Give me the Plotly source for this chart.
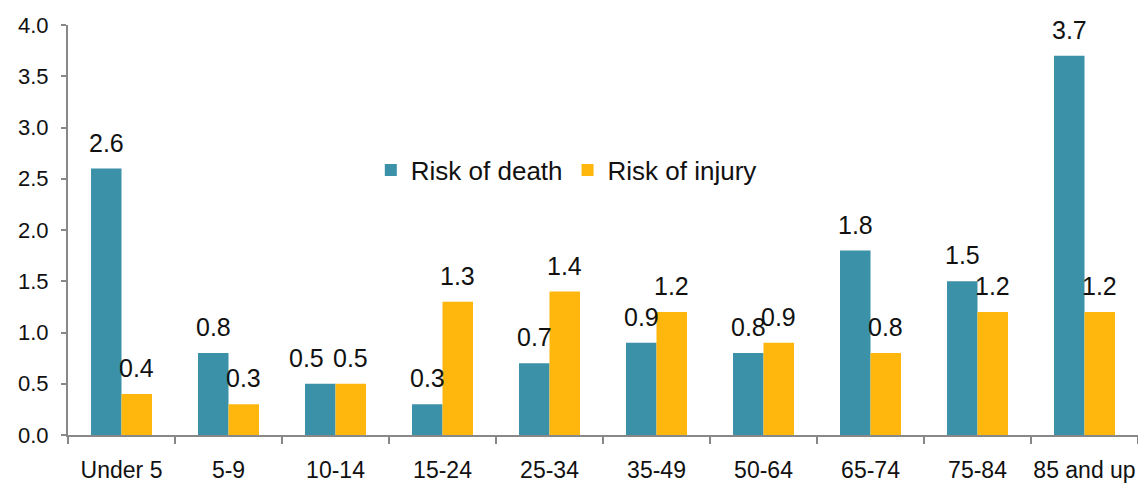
import plotly.graph_objects as go

categories = ["Under 5", "5-9", "10-14", "15-24", "25-34", "35-49", "50-64", "65-74", "75-84", "85 and up"]
risk_death = [2.6, 0.8, 0.5, 0.3, 0.7, 0.9, 0.8, 1.8, 1.5, 3.7]
risk_injury = [0.4, 0.3, 0.5, 1.3, 1.4, 1.2, 0.9, 0.8, 1.2, 1.2]
y_ticks = [0.0, 0.5, 1.0, 1.5, 2.0, 2.5, 3.0, 3.5, 4.0]

FONT = "Liberation Sans, Arial, sans-serif"
BARGAP = 0.43
HALF = (1 - BARGAP) / 4  # centre offset of each bar in a 2-bar group

fig = go.Figure()
fig.add_trace(go.Bar(
    x=categories, y=risk_death, name="Risk of death",
    marker=dict(color="#3b91a8", line=dict(width=0)),
))
fig.add_trace(go.Bar(
    x=categories, y=risk_injury, name="Risk of injury",
    marker=dict(color="#ffb60d", line=dict(width=0)),
))

annotations = []
for i, (d, inj) in enumerate(zip(risk_death, risk_injury)):
    # nudge labels apart where two equal-height labels would collide
    nudge = -14 if abs(d - inj) < 0.05 else 0
    annotations.append(dict(x=i - HALF, y=d, text=f"{d:.1f}", showarrow=False,
                            yanchor="bottom", yshift=10, xshift=nudge,
                            font=dict(size=25, family=FONT, color="#111111")))
    annotations.append(dict(x=i + HALF, y=inj, text=f"{inj:.1f}", showarrow=False,
                            yanchor="bottom", yshift=10,
                            font=dict(size=25, family=FONT, color="#111111")))

fig.update_layout(
    width=1138, height=483,
    margin=dict(l=68, r=0, t=25, b=48, autoexpand=False),
    paper_bgcolor="white", plot_bgcolor="white",
    barmode="group", bargap=BARGAP, bargroupgap=0,
    font=dict(family=FONT, size=23, color="#111111"),
    showlegend=True,
    legend=dict(orientation="h", x=0.283, y=0.646, xanchor="left", yanchor="middle",
                font=dict(size=26, family=FONT, color="#111111"),
                bgcolor="rgba(0,0,0,0)", itemwidth=30, tracegroupgap=0),
    annotations=annotations,
    xaxis=dict(
        automargin=False, tickangle=0,
        showline=True, linecolor="#888888", linewidth=2,
        ticks="outside", tickson="boundaries", ticklen=7, tickcolor="#888888", tickwidth=2,
        tickfont=dict(size=23, family=FONT, color="#111111"),
        ticklabelstandoff=13, showgrid=False,
    ),
    yaxis=dict(
        automargin=False,
        range=[0, 4], tickvals=y_ticks, ticktext=[f"{v:.1f}" for v in y_ticks],
        showline=True, linecolor="#888888", linewidth=2,
        ticks="outside", ticklen=5, tickcolor="#888888", tickwidth=2,
        tickfont=dict(size=22, family=FONT, color="#111111"),
        ticklabelstandoff=8, showgrid=False, zeroline=False,
    ),
)

fig.write_html("out.html", config={"displayModeBar": False},
               post_script="document.body.style.margin='0';document.body.style.overflow='hidden';")
